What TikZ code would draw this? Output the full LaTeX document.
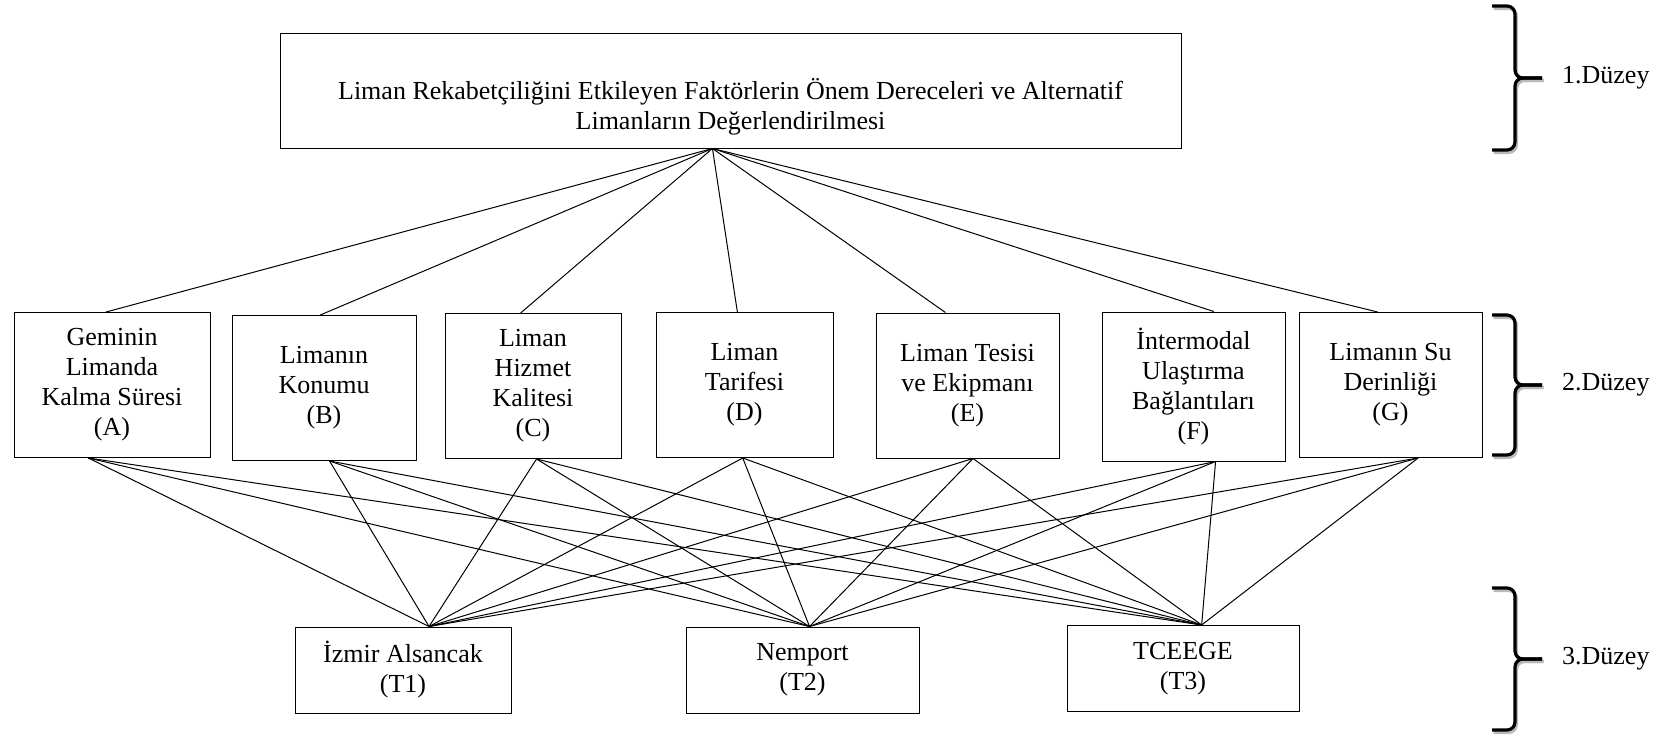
\documentclass[tikz,border=0pt]{standalone}
\usepackage{fontspec}
\setmainfont{Liberation Serif}
\usetikzlibrary{calc}

\begin{document}
\begin{tikzpicture}[x=0.5pt,y=-0.5pt,line width=0.5pt,
  font=\fontsize{13}{15}\selectfont,
  box/.style={draw,align=center,inner sep=2pt},
  crit/.style={box,minimum height=72.5pt},
  port/.style={box,minimum height=43pt},
  brace/.style={line width=1.6pt,rounded corners=4pt}]
\useasboundingbox (0,0) rectangle (1671,739);
\node[box,minimum width=450.5pt,minimum height=57.5pt] (goal) at (730.5,90.5)
  {\strut\\Liman Rekabetçiliğini Etkileyen Faktörlerin Önem Dereceleri ve Alternatif\\Limanların Değerlendirilmesi};
\node[crit,minimum width=98pt] (A) at (112,385) {Geminin\\Limanda\\Kalma Süresi\\(A)};
\node[crit,minimum width=92pt] (B) at (324,388) {Limanın\\Konumu\\(B)};
\node[crit,minimum width=88pt] (C) at (533,386) {Liman\\Hizmet\\Kalitesi\\(C)};
\node[crit,minimum width=88.5pt] (D) at (744.5,385) {Liman\\Tarifesi\\(D)};
\node[crit,minimum width=91.5pt] (E) at (967.5,385.5) {Liman Tesisi\\ve Ekipmanı\\(E)};
\node[crit,minimum width=91.5pt,minimum height=74.5pt] (F) at (1193.5,386.5) {İntermodal\\Ulaştırma\\Bağlantıları\\(F)};
\node[crit,minimum width=91.5pt] (G) at (1390.5,385) {Limanın Su\\Derinliği\\(G)};
\node[port,minimum width=108pt] (T1) at (403,670) {İzmir Alsancak\\(T1)};
\node[port,minimum width=116.5pt] (T2) at (802.5,670) {Nemport\\(T2)};
\node[port,minimum width=116pt] (T3) at (1183,668.5) {TCEEGE\\(T3)};
\coordinate (hub) at ($(goal.south west)!0.48!(goal.south east)$);
\foreach \n/\f in {A/0.47,B/0.48,C/0.43,D/0.46,E/0.38,F/0.61,G/0.43}
  \draw (hub) -- ($(\n.north west)!\f!(\n.north east)$);
\foreach \n/\f in {A/0.38,B/0.53,C/0.52,D/0.49,E/0.53,F/0.62,G/0.65}
  \foreach \t/\g in {T1/0.62,T2/0.53,T3/0.58}
    \draw ($(\n.south west)!\f!(\n.south east)$) -- ($(\t.north west)!\g!(\t.north east)$);
\foreach \ya/\ym/\yb/\n in {6/78/150/1,315/385/455/2,588/659/730/3} {
  \begin{scope}[shift={(1.5,2.5)},gray!55]
    \draw[brace] (1492,\ya) -- (1515,\ya) -- (1515,\ym) -- (1542,\ym);
    \draw[brace] (1492,\yb) -- (1515,\yb) -- (1515,\ym) -- (1542,\ym);
  \end{scope}
  \draw[brace] (1492,\ya) -- (1515,\ya) -- (1515,\ym) -- (1542,\ym);
  \draw[brace] (1492,\yb) -- (1515,\yb) -- (1515,\ym) -- (1542,\ym);
  \node[right] (lvl\n) at (1555,\ym) {\n.Düzey};
}
\end{tikzpicture}
\end{document}
